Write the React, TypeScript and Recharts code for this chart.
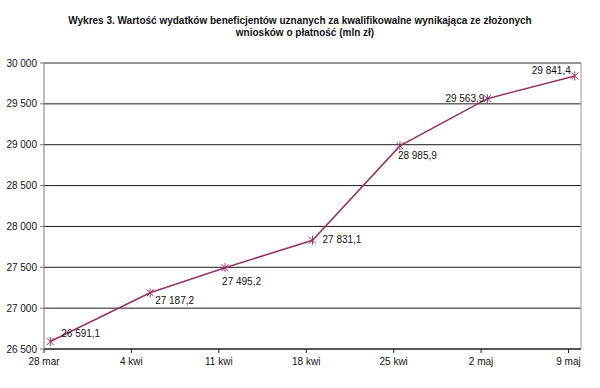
import React from "react";
import { LineChart, Line, XAxis, YAxis, CartesianGrid, LabelList, ReferenceLine } from "recharts";

const dates = ["2010-03-28", "2010-04-05", "2010-04-11", "2010-04-18", "2010-04-25", "2010-05-02", "2010-05-09"];
const values = [26591.1, 27187.2, 27495.2, 27831.1, 28985.9, 29563.9, 29841.4];
const tickDates = ["2010-03-28", "2010-04-04", "2010-04-11", "2010-04-18", "2010-04-25", "2010-05-02", "2010-05-09"];
const tickLabels = ["28 mar", "4 kwi", "11 kwi", "18 kwi", "25 kwi", "2 maj", "9 maj"];
const axisStart = "2010-03-28";
const axisEnd = "2010-05-10";
const yTicks = [26500, 27000, 27500, 28000, 28500, 29000, 29500, 30000];
const titleLines = [
  "Wykres 3. Wartość wydatków beneficjentów uznanych za kwalifikowalne wynikająca ze złożonych",
  "wniosków o płatność (mln zł)",
];

// presentational label offsets (style only)
const labelStyle = [
  { dx: 11, dy: -8, anchor: "start" },
  { dx: 5, dy: 7.5, anchor: "start" },
  { dx: -3, dy: 13.5, anchor: "start" },
  { dx: 10, dy: -1, anchor: "start" },
  { dx: -2, dy: 10, anchor: "start" },
  { dx: -3, dy: 0, anchor: "end" },
  { dx: -4, dy: -5, anchor: "end" },
];

const DAY = 86400000;
const dayOf = (s: string) => (Date.parse(s) - Date.parse(axisStart)) / DAY;
const data = dates.map((d, i) => ({ x: dayOf(d) + 0.5, y: values[i] }));
const xTicks = tickDates.map(dayOf);
const xDomain = [0, dayOf(axisEnd)];

const NBSP = "\u00A0";
const groupThousands = (intStr: string) => intStr.replace(/\B(?=(\d{3})+(?!\d))/g, NBSP);
const fmtInt = (v: number) => groupThousands(String(Math.round(v)));
const fmtDec = (v: number) => {
  const [i, d] = v.toFixed(1).split(".");
  return groupThousands(i) + "," + d;
};

const COLOR = "#993366";
const FONT = "'Liberation Sans', Arial, sans-serif";

const StarDot = (props: any) => {
  const { cx, cy } = props;
  if (cx == null || cy == null) return null;
  const r = 3.5;
  return (
    <path
      d={`M${cx - r},${cy - r}L${cx + r},${cy + r}M${cx - r},${cy + r}L${cx + r},${cy - r}M${cx},${cy - 4.5}L${cx},${cy + 4.5}`}
      stroke={COLOR}
      strokeWidth={1}
      fill="none"
    />
  );
};

const DataLabel = (props: any) => {
  const { x, y, index, value } = props;
  const s = labelStyle[index] || { dx: 5, dy: 0, anchor: "start" };
  return (
    <text
      x={x + s.dx}
      y={y + s.dy}
      dy="0.35em"
      textAnchor={s.anchor}
      fontSize={10}
      fontFamily={FONT}
      fill="#111"
    >
      {fmtDec(value)}
    </text>
  );
};

const YTick = (props: any) => {
  const { x, y, payload } = props;
  return (
    <text x={x} y={y} dy="0.35em" textAnchor="end" fontSize={10} fontFamily={FONT} fill="#111">
      {fmtInt(payload.value)}
    </text>
  );
};

const XTick = (props: any) => {
  const { x, y, payload } = props;
  return (
    <text x={x} y={y} dy="0.71em" textAnchor="middle" fontSize={10} fontFamily={FONT} fill="#111">
      {tickLabels[xTicks.indexOf(payload.value)] ?? ""}
    </text>
  );
};

export default function App() {
  return (
    <div style={{ position: "absolute", left: 0, top: 0, width: 600, height: 388, background: "#fff" }}>
      <svg width={600} height={60} style={{ position: "absolute", left: 0, top: 0 }}>
        <text x={300} y={20} dy="0.35em" textAnchor="middle" fontSize={10} fontWeight="bold" fontFamily={FONT} fill="#111">
          {titleLines[0]}
        </text>
        <text x={305} y={32} dy="0.35em" textAnchor="middle" fontSize={10} fontWeight="bold" fontFamily={FONT} fill="#111">
          {titleLines[1]}
        </text>
      </svg>
      <div style={{ position: "absolute", left: 0, top: 0 }}>
        <LineChart width={600} height={388} data={data} margin={{ top: 63, right: 19, bottom: 0, left: 0 }}>
          <CartesianGrid vertical={false} stroke="#1a1a1a" strokeWidth={1} />
          <ReferenceLine y={30000} stroke="#9a9a9a" strokeWidth={1} />
          <ReferenceLine x={xDomain[1]} stroke="#9a9a9a" strokeWidth={1} />
          <XAxis
            dataKey="x"
            type="number"
            domain={xDomain}
            ticks={xTicks}
            height={39}
            tickSize={4}
            tickMargin={5}
            stroke="#222"
            tick={<XTick />}
            interval={0}
            allowDataOverflow
          />
          <YAxis
            type="number"
            domain={[26500, 30000]}
            ticks={yTicks}
            width={44}
            tickSize={4}
            tickMargin={3}
            stroke="#777"
            tick={<YTick />}
            interval={0}
          />
          <Line
            dataKey="y"
            stroke={COLOR}
            strokeWidth={1.6}
            dot={<StarDot />}
            activeDot={false}
            isAnimationActive={false}
          >
            <LabelList dataKey="y" content={<DataLabel />} />
          </Line>
        </LineChart>
      </div>
    </div>
  );
}
